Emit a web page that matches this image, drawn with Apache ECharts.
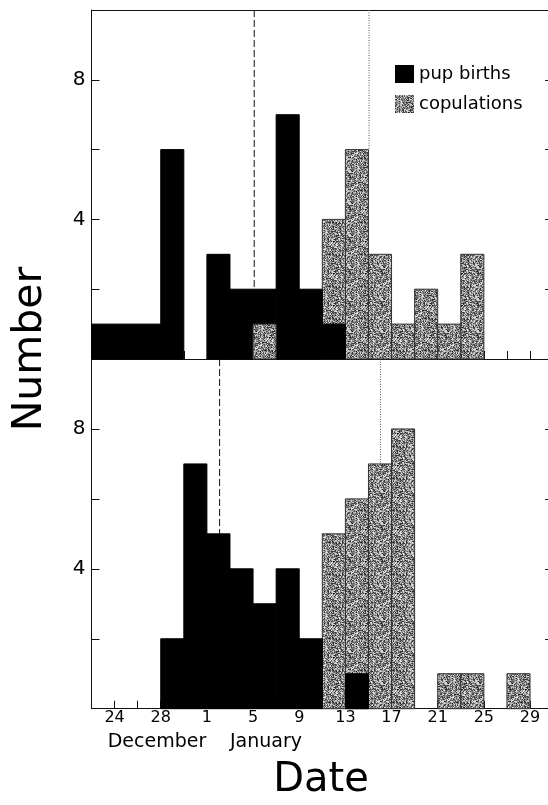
<!DOCTYPE html>
<html>
<head>
<meta charset="utf-8">
<script src="https://cdn.jsdelivr.net/npm/echarts@6/dist/echarts.min.js"></script>
<style>
html,body{margin:0;padding:0;background:#fff;}
#chart{width:548px;height:805px;}
</style>
</head>
<body>
<div id="chart"></div>
<script>
// ---- data (2-day bins; day numbers counted from Dec 0, so Jan 1 = 32) ----
const binStartDay = [22,24,26,28,30,32,34,36,38,40,42,44,46,48,50,52,54,56,58,60];
const binWidthDays = 2;
const topBirths        = [1,1,1,6,0,3,2,2,7,2,1,0,0,0,0,0,0,0,0,0];
const topCopulations   = [0,0,0,0,0,0,0,1,0,0,4,6,3,1,2,1,3,0,0,0];
const bottomBirths     = [0,0,0,2,7,5,4,3,4,2,0,1,0,0,0,0,0,0,0,0];
const bottomCopulations= [0,0,0,0,0,0,0,0,0,0,5,6,7,8,0,1,1,0,1,0];

const xTickDays   = [24,28,32,36,40,44,48,52,56,60];
const xTickLabels = ['24','28','1','5','9','13','17','21','25','29'];
const yTickValues = [4,8];
const yTickLabels = ['4','8'];

// vertical reference lines: [day, top value, bottom value]
const topBirthLine    = [36.1, 10, 2];
const topCopLine      = [46.05, 10, 6];
const bottomBirthLine = [33.1, 10, 5];
const bottomCopLine   = [47.05, 10, 7];

const seriesNames = ['pup births','copulations'];

// ---- stipple texture (deterministic hash) for copulation bars ----
function makePattern(){
  const N = 32;
  const c = document.createElement('canvas');
  c.width = N; c.height = N;
  const ctx = c.getContext('2d');
  const img = ctx.createImageData(N,N);
  for (let y=0;y<N;y++) for (let x=0;x<N;x++){
    let h = Math.imul(x, 374761393) + Math.imul(y, 668265263);
    h = Math.imul(h ^ (h >>> 13), 1274126177);
    h ^= h >>> 16;
    const g = Math.round(35 + (h & 255) * 0.78);
    const k = (y*N+x)*4;
    img.data[k]=g; img.data[k+1]=g; img.data[k+2]=g; img.data[k+3]=255;
  }
  ctx.putImageData(img,0,0);
  return {image:c, repeat:'repeat'};
}
const grayFill = makePattern();

const FONT = 'DejaVu Sans';

function barSeries(name, values, fill, stroke, gi){
  return {
    type:'custom', name:name, xAxisIndex:gi*2, yAxisIndex:gi*2,
    itemStyle:{color:fill},
    encode:{x:0,y:1},
    data: values.map((v,i)=>[binStartDay[i], v]),
    renderItem:function(params, api){
      const s = api.value(0), v = api.value(1);
      if (!v) return null;
      const p0 = api.coord([s,0]);
      const p1 = api.coord([s+binWidthDays, v]);
      return {
        type:'rect',
        z2: 100 - v,
        shape:{x:p0[0], y:p1[1], width:p1[0]-p0[0], height:p0[1]-p1[1]},
        style:{fill:fill, stroke:stroke, lineWidth:1}
      };
    }
  };
}

function vline(line, gi, dash, color){
  return {
    type:'line', xAxisIndex:gi*2, yAxisIndex:gi*2, symbol:'none', silent:true, z:1,
    data:[[line[0],line[1]],[line[0],line[2]]],
    lineStyle:{color:color, width:1, type:dash}
  };
}

const grids = [
  {left:91.5, width:461.6, top:10, height:349, outerBoundsMode:'none', containLabel:false},
  {left:91.5, width:461.6, top:359, height:349.7, outerBoundsMode:'none', containLabel:false}
];

const xAxes = [], yAxes = [];
[0,1].forEach(gi=>{
  xAxes.push({
    type:'value', gridIndex:gi, min:22, max:62, interval:2, position:'bottom',
    axisLine:{show:true, onZero:false, lineStyle:{color:'#111', width:1}},
    axisTick:{show:true, inside:true, length:8, lineStyle:{color:'#111'}},
    splitLine:{show:false},
    axisLabel:{show: gi===1, margin:1, color:'#000', fontFamily:FONT, fontSize:16,
      formatter:function(v){ const i = xTickDays.indexOf(v); return i>=0 ? xTickLabels[i] : ''; }}
  });
  xAxes.push({
    type:'value', gridIndex:gi, min:22, max:62, interval:2, position:'top',
    axisLine:{show:true, onZero:false, lineStyle:{color:'#111', width:1}},
    axisTick:{show:false}, axisLabel:{show:false}, splitLine:{show:false}
  });
  yAxes.push({
    type:'value', gridIndex:gi, min:0, max:10, interval:2, position:'left',
    axisLine:{show:true, onZero:false, lineStyle:{color:'#111', width:1}},
    axisTick:{show:true, inside:true, length:8, lineStyle:{color:'#111'}},
    splitLine:{show:false},
    axisLabel:{show:true, margin:6, color:'#000', fontFamily:FONT, fontSize:20,
      formatter:function(v){ const i = yTickValues.indexOf(v); return i>=0 ? yTickLabels[i] : ''; }}
  });
  yAxes.push({
    type:'value', gridIndex:gi, min:0, max:10, interval:2, position:'right',
    axisLine:{show:true, onZero:false, lineStyle:{color:'#111', width:1}},
    axisTick:{show:true, inside:true, length:8, lineStyle:{color:'#111'}},
    splitLine:{show:false}, axisLabel:{show:false}
  });
});

const chart = echarts.init(document.getElementById('chart'), null, {renderer:'canvas'});
chart.setOption({
  animation:false,
  backgroundColor:'#fff',
  grid:grids,
  xAxis:xAxes,
  yAxis:yAxes,
  legend:{
    data:seriesNames, orient:'vertical', left:395, top:65, itemGap:13, padding:0,
    itemWidth:19, itemHeight:18, icon:'rect', itemGap:12,
    textStyle:{fontFamily:FONT, fontSize:18, color:'#000'}
  },
  series:[
    barSeries(seriesNames[0], topBirths, '#000', '#000', 0),
    barSeries(seriesNames[1], topCopulations, grayFill, '#333', 0),
    barSeries(seriesNames[0], bottomBirths, '#000', '#000', 1),
    barSeries(seriesNames[1], bottomCopulations, grayFill, '#333', 1),
    vline(topBirthLine, 0, [7,3], '#111'),
    vline(topCopLine, 0, [1,1.5], '#555'),
    vline(bottomBirthLine, 1, [7,3], '#111'),
    vline(bottomCopLine, 1, [1,1.5], '#555')
  ],
  graphic:[
    {type:'text', x:30, y:349, rotation:Math.PI/2,
      style:{text:'Number', font:'41px "DejaVu Sans"', fill:'#000', align:'center', verticalAlign:'middle'}},
    {type:'text', x:157, y:742,
      style:{text:'December', font:'19px "DejaVu Sans"', fill:'#000', align:'center', verticalAlign:'middle'}},
    {type:'text', x:266, y:742,
      style:{text:'January', font:'19px "DejaVu Sans"', fill:'#000', align:'center', verticalAlign:'middle'}},
    {type:'text', x:321, y:781,
      style:{text:'Date', font:'40px "DejaVu Sans"', fill:'#000', align:'center', verticalAlign:'middle'}}
  ]
});
</script>
</body>
</html>
